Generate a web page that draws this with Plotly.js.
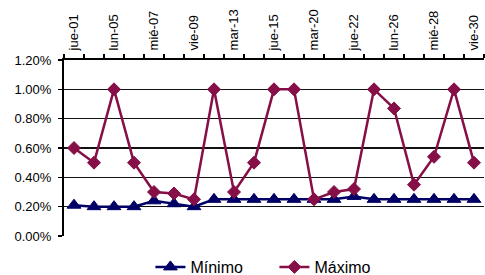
<!DOCTYPE html>
<html>
<head>
<meta charset="utf-8">
<script src="https://cdn.plot.ly/plotly-3.0.1.min.js"></script>
<style>html,body{margin:0;padding:0;background:#fff;}#chart{width:485px;height:275px;}</style>
</head>
<body>
<div id="chart"></div>
<script>
var dates = ["jue-01","vie-02","lun-05","mar-06","mié-07","jue-08","vie-09","lun-12","mar-13","mié-14","jue-15","vie-16","mar-20","mié-21","jue-22","vie-23","lun-26","mar-27","mié-28","jue-29","vie-30"];
var minimo = [0.21,0.20,0.20,0.20,0.24,0.22,0.20,0.25,0.25,0.25,0.25,0.25,0.25,0.25,0.27,0.25,0.25,0.25,0.25,0.25,0.25];
var maximo = [0.60,0.50,1.00,0.50,0.30,0.29,0.25,1.00,0.30,0.50,1.00,1.00,0.25,0.30,0.32,1.00,0.87,0.35,0.54,1.00,0.50];
var yTicks = [0,0.2,0.4,0.6,0.8,1.0,1.2];
var yTickText = ["0.00%","0.20%","0.40%","0.60%","0.80%","1.00%","1.20%"];

var idx = dates.map(function(d,i){return i;});
var labelIdx = idx.filter(function(i){return i%2===0;});
var labelText = labelIdx.map(function(i){return dates[i];});

var fam = "Arial, 'Liberation Sans', sans-serif";
var font = {family:fam, size:13, color:"#000"};
var traces = [
  {x: idx, y: minimo, name: "Mínimo", type:"scatter", mode:"lines+markers",
   line:{color:"#000066", width:2.5},
   marker:{symbol:"triangle-up", size:12, color:"#000066", line:{color:"#000066", width:1}}},
  {x: idx, y: maximo, name: "Máximo", type:"scatter", mode:"lines+markers",
   line:{color:"#850F46", width:2.5},
   marker:{symbol:"diamond", size:10, color:"#850F46", line:{color:"#850F46", width:1}}}
];
var layout = {
  width:485, height:275,
  margin:{l:64, r:1, t:60, b:39, autoexpand:false},
  paper_bgcolor:"#fff", plot_bgcolor:"#fff",
  font: font,
  showlegend:true,
  legend:{orientation:"h", x:0.501, xanchor:"center", y:-0.176, yanchor:"middle",
          entrywidth:79, entrywidthmode:"pixels",
          font:{family:fam, size:16, color:"#000"}},
  xaxis:{side:"top", range:[-0.5, dates.length-0.5], tickmode:"array",
         tickvals:labelIdx, ticktext:labelText, tickangle:-90,
         ticks:"outside", ticklen:5, tickcolor:"rgba(0,0,0,0)",
         minor:{tickmode:"linear", tick0:-0.5, dtick:1, ticks:"outside", ticklen:4, tickcolor:"#000", tickwidth:1.5},
         showline:true, linecolor:"#000", linewidth:2, showgrid:false, zeroline:false,
         tickfont:font, fixedrange:true, automargin:false},
  yaxis:{range:[0,1.2], tickmode:"array", tickvals:yTicks, ticktext:yTickText,
         ticks:"outside", ticklen:4, tickcolor:"#000", tickwidth:1.5,
         showline:true, linecolor:"#000", linewidth:2, showgrid:true, gridcolor:"#111", gridwidth:1.5,
         zeroline:false, tickfont:font, ticklabelstandoff:4, fixedrange:true, automargin:false}
};
Plotly.newPlot("chart", traces, layout, {displayModeBar:false, staticPlot:true});
</script>
</body>
</html>
